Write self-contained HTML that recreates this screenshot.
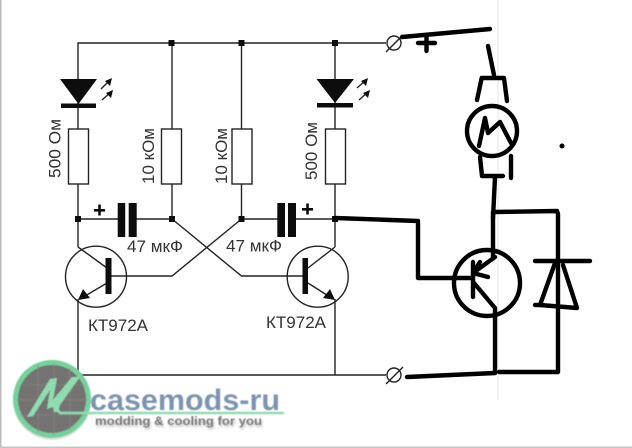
<!DOCTYPE html>
<html>
<head>
<meta charset="utf-8">
<style>
html,body{margin:0;padding:0;background:#fff}
svg{display:block}
text{font-family:"Liberation Sans",sans-serif}
</style>
</head>
<body>
<svg width="632" height="448" viewBox="0 0 632 448" xmlns="http://www.w3.org/2000/svg">
<defs>
<filter id="b"><feGaussianBlur stdDeviation="0.5"/></filter>
<filter id="t"><feGaussianBlur stdDeviation="0.25"/></filter>
<filter id="s" x="-10%" y="-30%" width="120%" height="170%"><feGaussianBlur stdDeviation="1"/></filter>
</defs>
<rect width="632" height="448" fill="#fff"/>
<line x1="498" y1="0" x2="498" y2="400" stroke="#e6e6e6" stroke-width="1"/>
<rect x="0" y="0" width="1.5" height="448" fill="#bbb"/>
<rect x="0" y="446.5" width="632" height="1.5" fill="#c4c4c4"/>

<g filter="url(#t)">
<!-- thin schematic -->
<g fill="none" stroke="#222" stroke-width="1.4">
<polyline points="386,43 78,43 78,129"/>
<line x1="78" y1="184" x2="78" y2="247"/>
<line x1="172" y1="43" x2="172" y2="129"/>
<line x1="172" y1="184" x2="172" y2="219"/>
<line x1="241.5" y1="43" x2="241.5" y2="129"/>
<line x1="241.5" y1="184" x2="241.5" y2="219"/>
<line x1="335" y1="43" x2="335" y2="129"/>
<line x1="335" y1="184" x2="335" y2="247"/>
<rect x="68.5" y="129" width="20" height="55"/>
<rect x="161.5" y="129" width="20" height="55"/>
<rect x="232" y="129" width="20" height="55"/>
<rect x="325.5" y="129" width="20" height="55"/>
<line x1="78" y1="219" x2="118" y2="219"/>
<line x1="136" y1="219" x2="172" y2="219"/>
<line x1="241.5" y1="219" x2="278" y2="219"/>
<line x1="296" y1="219" x2="335" y2="219"/>
<polyline points="172,219 241.5,276 305,276"/>
<polyline points="241.5,219 172,276 108,276"/>
<circle cx="96" cy="276.7" r="30.5"/>
<circle cx="317.7" cy="276.7" r="30.5"/>
<line x1="78" y1="247" x2="107" y2="268"/>
<line x1="107" y1="283" x2="80" y2="299"/>
<line x1="308" y1="268" x2="335" y2="247"/>
<line x1="308" y1="283" x2="333" y2="299"/>
<line x1="78" y1="299" x2="78" y2="375"/>
<line x1="335" y1="299" x2="335" y2="375"/>
<line x1="78" y1="375" x2="386" y2="375"/>
<circle cx="394" cy="43" r="7"/>
<line x1="386" y1="52" x2="403" y2="35"/>
<circle cx="394" cy="375" r="7"/>
<line x1="386" y1="384" x2="403" y2="367"/>
<!-- LED rays -->
<line x1="101" y1="89" x2="110" y2="80"/>
<line x1="102" y1="100" x2="111" y2="92"/>
<line x1="357" y1="88" x2="366" y2="80"/>
<line x1="359" y1="100" x2="368" y2="92"/>
</g>
<g fill="#111">
<polygon points="60,79 97,79 78.5,104"/>
<rect x="61" y="103.5" width="35" height="4.5"/>
<polygon points="316.5,79 354,79 335,103"/>
<rect x="317" y="103" width="36" height="4.5"/>
<polygon points="112,78 105,81 110,86"/>
<polygon points="113,90 106,93 111,98"/>
<polygon points="368,78 361,81 366,86"/>
<polygon points="370,90 363,93 368,98"/>
<rect x="168.5" y="40" width="6" height="6"/>
<rect x="238.5" y="40" width="6" height="6"/>
<rect x="332" y="40" width="6" height="6"/>
<rect x="75" y="216" width="6" height="6"/>
<rect x="169" y="216" width="6" height="6"/>
<rect x="238.5" y="216" width="6" height="6"/>
<rect x="332" y="216" width="6" height="6"/>
<rect x="117.7" y="203" width="7.5" height="34"/>
<rect x="128.7" y="203" width="8" height="34"/>
<rect x="277.3" y="203" width="7.7" height="34"/>
<rect x="288" y="203" width="8" height="34"/>
<rect x="105.5" y="258" width="6" height="36"/>
<rect x="302.5" y="258" width="5.5" height="36"/>
<polygon points="78,300 90,298 83,289"/>
<polygon points="335,300 323,298 330,289"/>
<rect x="94" y="209" width="11" height="2.6"/>
<rect x="98.2" y="204.5" width="2.6" height="11"/>
<rect x="302" y="208" width="11" height="2.6"/>
<rect x="306.2" y="203.5" width="2.6" height="11"/>
</g>

<!-- labels -->
<g fill="#333" font-size="17">
<text x="127" y="252" textLength="56" lengthAdjust="spacingAndGlyphs">47 мкФ</text>
<text x="226" y="251.5" textLength="56" lengthAdjust="spacingAndGlyphs">47 мкФ</text>
<text x="88" y="331" textLength="60" lengthAdjust="spacingAndGlyphs">КТ972А</text>
<text x="266" y="328" textLength="60" lengthAdjust="spacingAndGlyphs">КТ972А</text>
<text transform="translate(60.5,178) rotate(-90)" textLength="59" lengthAdjust="spacingAndGlyphs">500 Ом</text>
<text transform="translate(154,184) rotate(-90)" textLength="56" lengthAdjust="spacingAndGlyphs">10 кОм</text>
<text transform="translate(227,184) rotate(-90)" textLength="56" lengthAdjust="spacingAndGlyphs">10 кОм</text>
<text transform="translate(317,180) rotate(-90)" textLength="58" lengthAdjust="spacingAndGlyphs">500 Ом</text>
</g>

<!-- hand-drawn thick -->
<g fill="none" stroke="#000" stroke-width="4.4" stroke-linecap="round" stroke-linejoin="round">
<line x1="402" y1="37" x2="490" y2="29"/>
<line x1="418" y1="43" x2="435" y2="43"/>
<line x1="426.5" y1="37" x2="426.5" y2="51"/>
<line x1="488" y1="46" x2="494" y2="75"/>
<polyline points="477,100 481.7,78 504,78 507,101"/>
<circle cx="492" cy="131" r="25"/>
<polyline points="479,146 485,118 488,133 500,122 511,143"/>
<polyline points="480,157 482,176 503,176"/>
<line x1="511" y1="156" x2="511" y2="178"/>
<line x1="495" y1="177" x2="493" y2="218"/>
<polyline points="335,218 418,221 418,278 472,278"/>
<line x1="493" y1="212" x2="493" y2="257"/>
<polyline points="494,212 557,211 558,214 558,372 499,372"/>
<circle cx="487" cy="283" r="33"/>
<line x1="473" y1="262" x2="473" y2="297"/>
<line x1="495" y1="257" x2="473" y2="273"/>
<polyline points="480,262 473,273 488,277"/>
<polyline points="474,283 495,308 495,373 407,377"/>
<line x1="535" y1="261" x2="590" y2="261"/>
<polyline points="555,263 540,305 577,308 563,265"/>
<line x1="535" y1="305" x2="540" y2="305"/>
</g>
<circle cx="562" cy="146" r="2.5" fill="#000"/>
</g>

<!-- logo -->
<g filter="url(#b)">
<circle cx="52" cy="401" r="39" fill="#c8c8c8" opacity=".5"/>
<circle cx="52" cy="399" r="36.5" fill="#757371" stroke="#74d29c" stroke-width="5"/>
<g stroke="#8b8987" stroke-width="0.6">
<line x1="20" y1="385" x2="85" y2="385"/>
<line x1="16" y1="400" x2="88" y2="400"/>
<line x1="20" y1="415" x2="85" y2="415"/>
<line x1="38" y1="365" x2="38" y2="432"/>
<line x1="54" y1="363" x2="54" y2="435"/>
<line x1="70" y1="368" x2="70" y2="430"/>
</g>
<text x="90" y="410" font-size="30" font-weight="bold" fill="#7d94b0" textLength="190" lengthAdjust="spacingAndGlyphs">casemods-ru</text>
<polygon points="27,417 50,379 57,378 53,400 72,377 80,377 60,405 58,412 54,412 53,407 47,409 50,390 33,416" fill="#8fdcb0"/>
<polyline points="56,408 60,413 283,413" fill="none" stroke="#8fdcb0" stroke-width="2.5" stroke-linejoin="round" stroke-linecap="round"/>
<text x="96" y="427" font-size="12" font-weight="bold" fill="#bdbdbd" textLength="167" lengthAdjust="spacingAndGlyphs" filter="url(#s)">modding &amp; cooling for you</text>
<text x="95" y="425" font-size="12" font-weight="bold" fill="#777" textLength="167" lengthAdjust="spacingAndGlyphs">modding &amp; cooling for you</text>
</g>
</svg>
</body>
</html>
